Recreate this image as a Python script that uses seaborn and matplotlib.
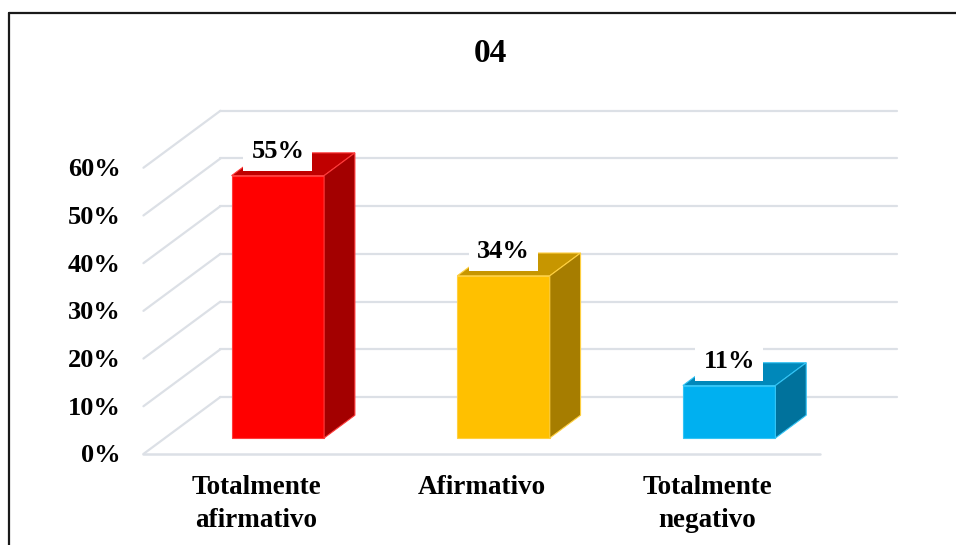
import matplotlib
matplotlib.use("Agg")
import matplotlib.pyplot as plt
import seaborn as sns
from matplotlib.patches import Polygon
from matplotlib.lines import Line2D

categories = ["Totalmente\nafirmativo", "Afirmativo", "Totalmente\nnegativo"]
values = [55, 34, 11]
front_colors = ["#FF0000", "#FFC000", "#00B0F0"]
top_colors = ["#C00000", "#C79600", "#0088BA"]
side_colors = ["#A30000", "#A67D00", "#00729C"]
edge_colors = ["#FF3B3B", "#FFD040", "#33C4F5"]
y_ticks = [0, 10, 20, 30, 40, 50, 60]
title = "04"

sns.set_style("white")
plt.rcParams["font.family"] = ["Liberation Serif", "DejaVu Serif"]
plt.rcParams["font.weight"] = "bold"
plt.rcParams["text.color"] = "black"

W, H = 956, 545
fig = plt.figure(figsize=(W / 100, H / 100), dpi=100)
ax = fig.add_axes([165 / W, (H - 438) / H, 677 / W, 286.2 / H])

sns.barplot(x=categories, y=values, hue=categories, palette=front_colors,
            width=0.41, legend=False, saturation=1, ax=ax, zorder=3)
ax.set_xlim(-0.5, 2.5)
ax.set_ylim(0, 60)
ax.axis("off")

# depth direction of the fake 3d box, pixels for a full unit of depth
DX, DY = 77, 57
FRONT, BAR_BACK, BACK = -0.28, 0.40, 0.72


def depth_xy(x, y, d, ox=0, oy=0):
    px = ax.transData.transform((x, y))
    px = (px[0] + DX * d + ox, px[1] + DY * d + oy)
    return ax.transData.inverted().transform(px)


grid_col = "#DCE0E6"
for v in y_ticks:
    a = depth_xy(-0.5, v, BACK)
    b = depth_xy(2.5, v, BACK)
    ax.add_line(Line2D([a[0], b[0]], [a[1], b[1]], color=grid_col, lw=1.6,
                       zorder=0, clip_on=False))
    c = depth_xy(-0.5, v, FRONT)
    ax.add_line(Line2D([c[0], a[0]], [c[1], a[1]], color=grid_col, lw=1.6,
                       zorder=0, clip_on=False))
    t = depth_xy(-0.5, v, FRONT, ox=-23, oy=-2)
    ax.text(t[0], t[1], f"{v}%", ha="right", va="center", fontsize=19,
            fontweight="bold", clip_on=False)

a = depth_xy(-0.5, 0, FRONT)
b = depth_xy(2.5, 0, FRONT)
ax.add_line(Line2D([a[0], b[0]], [a[1], b[1]], color=grid_col, lw=1.8,
                   zorder=0, clip_on=False))

for i, p in enumerate(ax.patches):
    p.set_edgecolor(edge_colors[i])
    p.set_linewidth(0.8)
    x0 = p.get_x()
    x1 = x0 + p.get_width()
    h = p.get_height()
    top = [depth_xy(x0, h, 0), depth_xy(x1, h, 0),
           depth_xy(x1, h, BAR_BACK), depth_xy(x0, h, BAR_BACK)]
    side = [depth_xy(x1, 0, 0), depth_xy(x1, h, 0),
            depth_xy(x1, h, BAR_BACK), depth_xy(x1, 0, BAR_BACK)]
    ax.add_patch(Polygon(top, closed=True, facecolor=top_colors[i],
                         edgecolor=edge_colors[i], lw=0.8, zorder=3,
                         clip_on=False))
    ax.add_patch(Polygon(side, closed=True, facecolor=side_colors[i],
                         edgecolor=edge_colors[i], lw=0.8, zorder=3,
                         clip_on=False))
    ax.annotate(f"{values[i]}%", (x0 + p.get_width() / 2, h),
                xytext=(0, 17.3), textcoords="offset points",
                ha="center", va="center", fontsize=19, fontweight="bold",
                bbox=dict(boxstyle="square,pad=0.3", fc="white", ec="none"),
                zorder=5, annotation_clip=False)
    p.set_clip_on(False)

for i, lab in enumerate(categories):
    t = depth_xy(i, 0, FRONT, oy=-21)
    ax.text(t[0], t[1], lab, ha="center", va="top", fontsize=19.5,
            fontweight="bold", linespacing=1.4, clip_on=False)

fig.text(490 / W, 1 - 54 / H, title, ha="center", va="center",
         fontsize=24, fontweight="bold")

# chart frame, only top and left edges show in the picture
fig.add_artist(Line2D([9 / W, 1.0], [1 - 13 / H, 1 - 13 / H],
                      color="#1A1A1A", lw=1.6, transform=fig.transFigure))
fig.add_artist(Line2D([9 / W, 9 / W], [0.0, 1 - 13 / H],
                      color="#1A1A1A", lw=1.6, transform=fig.transFigure))

fig.savefig("out.png", dpi=100, facecolor="white")
